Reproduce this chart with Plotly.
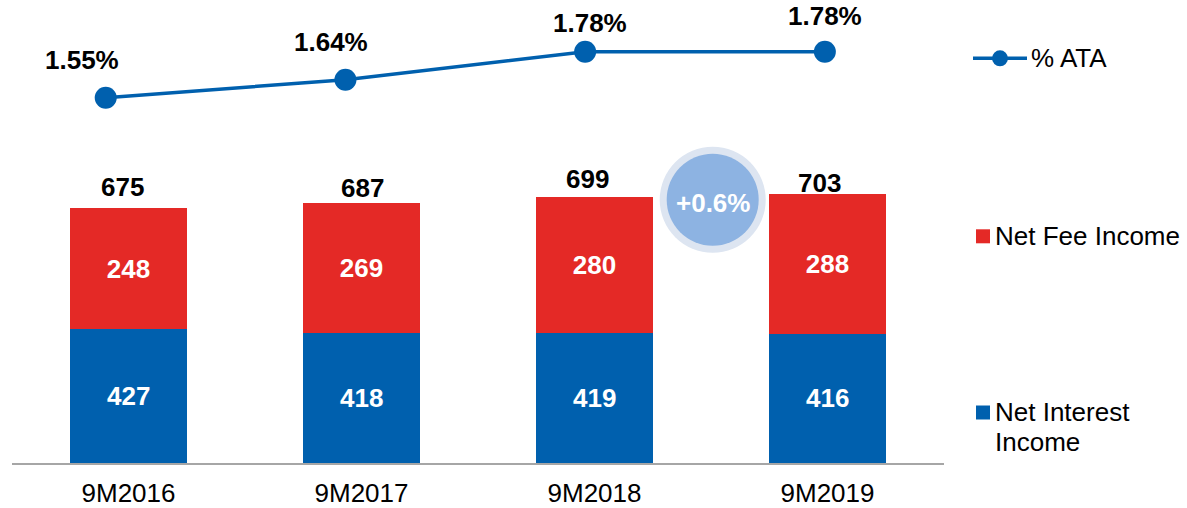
import plotly.graph_objects as go

# ---------------- data ----------------
periods = ["9M2016", "9M2017", "9M2018", "9M2019"]
net_interest_income = [427, 418, 419, 416]
net_fee_income = [248, 269, 280, 288]
totals = [675, 687, 699, 703]
ata_pct = [1.55, 1.64, 1.78, 1.78]
ata_labels = ["1.55%", "1.64%", "1.78%", "1.78%"]
growth_label = "+0.6%"

# ---------------- styling / layout helpers ----------------
RED = "#E42926"
BLUE = "#0060AE"
FONT = "Arial, Liberation Sans, sans-serif"
FS = 26

# label nudges (pixels) to mimic the original placement
total_dx = [-6, 1, -7, -8]
total_dy = [21, 15, 18, 12]
ata_dx = [-24, -14, 5, 0]
ata_dy = [38, 38, 29, 36]

W, H = 1187, 508
ML, MR, MT, MB = 12, 243, 0, 45
PW = W - ML - MR
PH = H - MT - MB
Y_RANGE = [150, 1104.6]  # value axis starts above zero (broken axis look)


def px_to_paper(px, py):
    return (px - ML) / PW, (H - MB - py) / PH


fig = go.Figure()

fig.add_trace(go.Bar(
    x=periods, y=net_interest_income, name="Net Interest Income",
    marker=dict(color=BLUE, line=dict(width=0)),
    textposition="none", width=0.5, showlegend=False,
))
fig.add_trace(go.Bar(
    x=periods, y=net_fee_income, name="Net Fee Income",
    marker=dict(color=RED, line=dict(width=0)),
    text=[str(v) for v in net_fee_income], texttemplate="<b>%{text}</b>",
    textposition="inside", insidetextanchor="middle", textangle=0,
    textfont=dict(color="white", size=FS, family=FONT),
    width=0.5, showlegend=False,
))
fig.add_trace(go.Scatter(
    x=periods, y=ata_pct, name="% ATA", mode="lines+markers",
    line=dict(color=BLUE, width=3.5), marker=dict(color=BLUE, size=22),
    xaxis="x2", yaxis="y2", showlegend=False, cliponaxis=False,
))

annotations = []
for i, p in enumerate(periods):
    # label of the visible part of the blue segment
    annotations.append(dict(
        x=p, y=(Y_RANGE[0] + net_interest_income[i]) / 2, xref="x", yref="y",
        text=f"<b>{net_interest_income[i]}</b>", showarrow=False,
        xanchor="center", yanchor="middle",
        font=dict(size=FS, color="white", family=FONT)))
    annotations.append(dict(
        x=p, y=totals[i], xref="x", yref="y", text=f"<b>{totals[i]}</b>",
        showarrow=False, xshift=total_dx[i], yshift=total_dy[i],
        xanchor="center", yanchor="middle",
        font=dict(size=FS, color="black", family=FONT)))
    annotations.append(dict(
        x=p, y=ata_pct[i], xref="x2", yref="y2", text=f"<b>{ata_labels[i]}</b>",
        showarrow=False, xshift=ata_dx[i], yshift=ata_dy[i],
        xanchor="center", yanchor="middle",
        font=dict(size=FS, color="black", family=FONT)))

shapes = []
# growth bubble
cx, cy = px_to_paper(712.7, 199.7)
for r, col in [(53, "#DDE5F1"), (46, "#8DB3E2")]:
    shapes.append(dict(type="circle", xref="paper", yref="paper",
                       xsizemode="pixel", ysizemode="pixel",
                       xanchor=cx, yanchor=cy, x0=-r, x1=r, y0=-r, y1=r,
                       fillcolor=col, line=dict(width=0), layer="above"))
annotations.append(dict(x=cx, y=cy, xref="paper", yref="paper",
                        text=f"<b>{growth_label}</b>", showarrow=False,
                        xanchor="center", yanchor="middle", yshift=-3,
                        font=dict(size=FS, color="white", family=FONT)))

# custom legend
lx0, ly = px_to_paper(973, 58.3)
lx1, _ = px_to_paper(1027, 58.3)
shapes.append(dict(type="line", xref="paper", yref="paper", x0=lx0, x1=lx1,
                   y0=ly, y1=ly, line=dict(color=BLUE, width=3.5)))
mx, _ = px_to_paper(1000, 58.3)
shapes.append(dict(type="circle", xref="paper", yref="paper",
                   xsizemode="pixel", ysizemode="pixel", xanchor=mx, yanchor=ly,
                   x0=-8, x1=8, y0=-8, y1=8, fillcolor=BLUE, line=dict(width=0)))
tx, _ = px_to_paper(1028.5, 0)
annotations.append(dict(x=tx, y=ly, xref="paper", yref="paper", text="% ATA",
                        showarrow=False, xanchor="left", yanchor="middle",
                        font=dict(size=FS, color="black", family=FONT)))

for label_lines, col, sy, ty in [
        (["Net Fee Income"], RED, 236.3, 236),
        (["Net Interest", "Income"], BLUE, 412.5, 412)]:
    sx, syp = px_to_paper(983, sy)
    shapes.append(dict(type="rect", xref="paper", yref="paper",
                       xsizemode="pixel", ysizemode="pixel", xanchor=sx, yanchor=syp,
                       x0=-7, x1=7, y0=-7, y1=7, fillcolor=col, line=dict(width=0)))
    lx, _ = px_to_paper(993, 0)
    for k, t in enumerate(label_lines):
        _, typ = px_to_paper(0, ty + 30 * k)
        annotations.append(dict(x=lx, y=typ, xref="paper", yref="paper",
                                text=t, showarrow=False, xanchor="left",
                                yanchor="middle",
                                font=dict(size=FS, color="black", family=FONT)))

fig.update_layout(
    width=W, height=H, barmode="stack",
    margin=dict(l=ML, r=MR, t=MT, b=MB, autoexpand=False),
    paper_bgcolor="white", plot_bgcolor="white",
    font=dict(family=FONT, size=FS, color="black"),
    xaxis=dict(type="category", range=[-0.5, 3.5], showline=True,
               linecolor="#A6A6A6", linewidth=1.5, showgrid=False,
               ticks="", tickfont=dict(size=FS, color="black", family=FONT),
               ticklabelstandoff=6, fixedrange=True),
    yaxis=dict(range=Y_RANGE, visible=False, showgrid=False),
    xaxis2=dict(type="category", overlaying="x", range=[-0.391, 3.497],
                visible=False),
    yaxis2=dict(overlaying="y", range=[-0.2765, 2.0385], visible=False),
    shapes=shapes, annotations=annotations, showlegend=False,
)

fig.write_html("out.html",
               config={"displayModeBar": False},
               post_script="document.body.style.margin='0';"
                           "document.body.style.overflow='hidden';")
